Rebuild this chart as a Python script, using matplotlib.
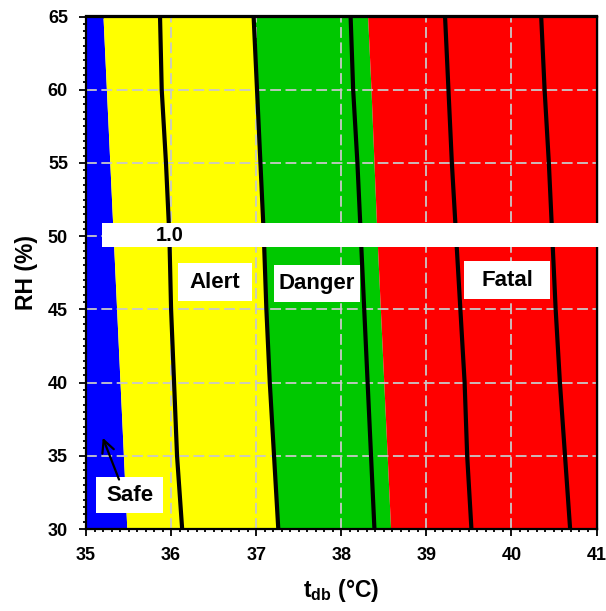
import matplotlib
matplotlib.use('Agg')
import matplotlib.pyplot as plt
from matplotlib.patches import Rectangle
from matplotlib.ticker import MultipleLocator, NullFormatter

plt.rcParams['font.family'] = ['Liberation Sans', 'DejaVu Sans']
plt.rcParams['font.weight'] = 'bold'
plt.rcParams['mathtext.fontset'] = 'custom'
plt.rcParams['mathtext.rm'] = 'Liberation Sans:bold'
plt.rcParams['mathtext.it'] = 'Liberation Sans:bold'
plt.rcParams['mathtext.bf'] = 'Liberation Sans:bold'

# relative humidity levels (%) where the curves were read
rh = [30, 35, 40, 45, 50, 55, 60, 65]

# zone edges (t_db, degC) at each RH level
safe_edge = [35.48, 35.44, 35.40, 35.36, 35.32, 35.28, 35.24, 35.20]
danger_edge = [37.26, 37.21, 37.16, 37.12, 37.09, 37.05, 37.01, 36.97]
fatal_edge = [38.58, 38.54, 38.50, 38.46, 38.42, 38.385, 38.35, 38.31]

# iso-lines
line1 = [36.13, 36.07, 36.035, 36.00, 35.98, 35.94, 35.89, 35.87]
line2 = [37.26, 37.21, 37.16, 37.12, 37.09, 37.05, 37.01, 36.97]
line3 = [38.39, 38.35, 38.31, 38.27, 38.23, 38.19, 38.14, 38.11]
line4 = [39.53, 39.48, 39.45, 39.40, 39.35, 39.30, 39.26, 39.22]
line5 = [40.69, 40.63, 40.57, 40.52, 40.48, 40.44, 40.39, 40.35]

zone_names = ['Alert', 'Danger', 'Fatal', 'Safe']

x_min, x_max = 35, 41
y_min, y_max = 30, 65

fig = plt.figure(figsize=(6.06, 6.11), dpi=100)
ax = fig.add_axes([86 / 606, 1 - 529 / 611, 510.5 / 606, 512.5 / 611])

ax.fill_betweenx(rh, x_min, safe_edge, color='#0000FF', lw=0)
ax.fill_betweenx(rh, safe_edge, danger_edge, color='#FFFF00', lw=0)
ax.fill_betweenx(rh, danger_edge, fatal_edge, color='#00C800', lw=0)
ax.fill_betweenx(rh, fatal_edge, x_max, color='#FF0000', lw=0)

for ln in [line1, line2, line3, line4, line5]:
    ax.plot(ln, rh, color='black', lw=3.0, solid_joinstyle='miter', zorder=2)

ax.grid(True, which='major', color='#C8C8C8', ls=(0, (6, 2.5)), lw=1.3)

# white band with the "1.0" label
ax.add_patch(Rectangle((35.188, 49.27), 41.04 - 35.188, 50.91 - 49.27,
                       fc='white', ec='none', zorder=5, clip_on=False))
ax.text(35.987, 50.07, '1.0', ha='center', va='center', fontsize=14.5,
        fontweight='bold', zorder=6)

# zone labels
boxes = {
    'Alert': (36.078, 36.948, 45.55, 48.15),
    'Danger': (37.210, 38.221, 45.50, 48.03),
    'Fatal': (39.443, 40.454, 45.70, 48.30),
    'Safe': (35.118, 35.905, 31.09, 33.55),
}
for name in zone_names:
    x0, x1, y0, y1 = boxes[name]
    ax.add_patch(Rectangle((x0, y0), x1 - x0, y1 - y0, fc='white', ec='none', zorder=5))
    ax.text((x0 + x1) / 2, (y0 + y1) / 2, name, ha='center', va='center',
            fontsize=16, fontweight='bold', zorder=6)

ax.annotate('', xy=(35.185, 36.41), xytext=(35.40, 33.20),
            arrowprops=dict(arrowstyle='->', lw=1.6, color='black', mutation_scale=22),
            zorder=6)

ax.set_xlim(x_min, x_max)
ax.set_ylim(y_min, y_max)
ax.xaxis.set_major_locator(MultipleLocator(1))
ax.xaxis.set_minor_locator(MultipleLocator(0.1))
ax.yaxis.set_major_locator(MultipleLocator(5))
ax.yaxis.set_minor_locator(MultipleLocator(0.5))
ax.tick_params(which='both', direction='out', width=1.3, labelsize=13)
ax.tick_params(which='major', length=5, pad=8)
ax.tick_params(which='minor', length=2.5)
for s in ax.spines.values():
    s.set_linewidth(1.6)

# inward ticks on top and right
secx = ax.secondary_xaxis('top')
secx.xaxis.set_major_locator(MultipleLocator(1))
secx.xaxis.set_minor_locator(MultipleLocator(0.1))
secx.xaxis.set_major_formatter(NullFormatter())
secx.tick_params(which='both', direction='in', width=1.3)
secx.tick_params(which='major', length=5)
secx.tick_params(which='minor', length=2.5)
secx.spines['top'].set_linewidth(1.6)
secy = ax.secondary_yaxis('right')
secy.yaxis.set_major_locator(MultipleLocator(5))
secy.yaxis.set_minor_locator(MultipleLocator(0.5))
secy.yaxis.set_major_formatter(NullFormatter())
secy.tick_params(which='both', direction='in', width=1.3)
secy.tick_params(which='major', length=5)
secy.tick_params(which='minor', length=2.5)
secy.spines['right'].set_linewidth(1.6)

ax.set_xlabel(r'$\mathbf{t_{db}}$ (°C)', fontsize=16.5, fontweight='bold', labelpad=9)
ax.set_ylabel('RH (%)', fontsize=16.5, fontweight='bold', labelpad=7)

fig.savefig('out.png', dpi=100)
